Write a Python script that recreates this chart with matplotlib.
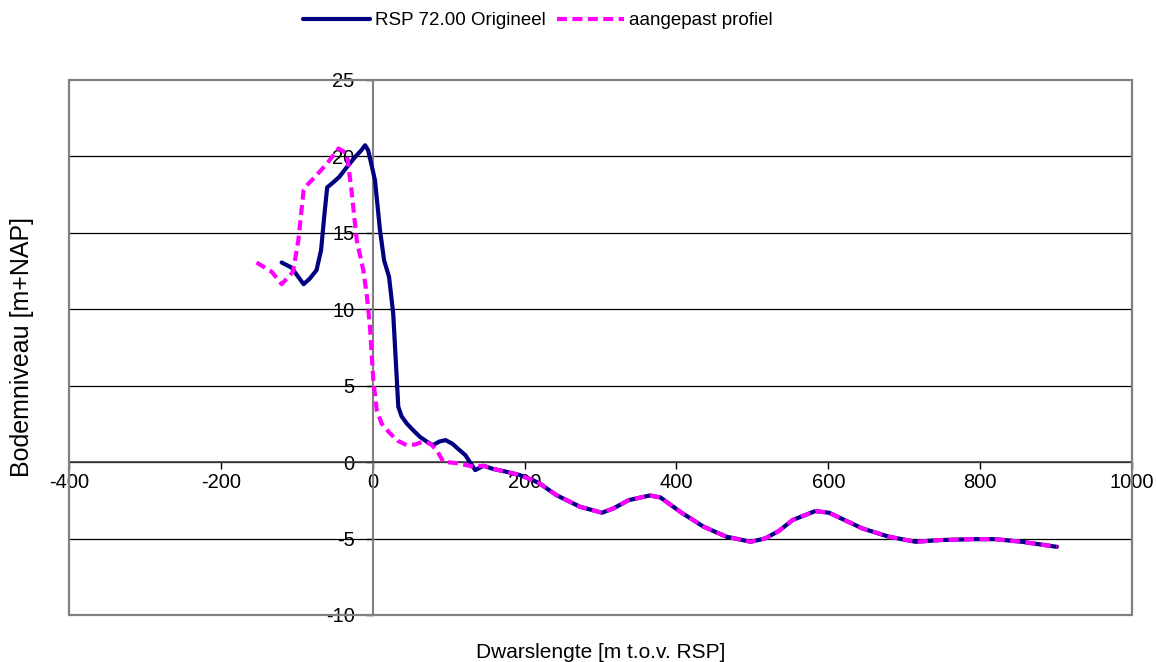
import matplotlib
matplotlib.use("Agg")
import matplotlib.pyplot as plt
from matplotlib.patches import Rectangle

plt.rcParams['font.family'] = ['Liberation Sans', 'DejaVu Sans']
plt.rcParams['axes.unicode_minus'] = False

# Original cross-section profile
orig_x = [-120, -107, -91, -83, -74, -68, -64, -60, -52, -44, -34, -23, -15, -10, -6,
          0, 3, 9.6, 15, 21.5, 27, 33.7, 38, 44.8, 53, 62, 71, 79, 88, 96, 105, 114,
          122, 128, 135, 146, 159, 176, 194, 211, 220, 242, 273, 302, 317, 337, 365,
          379, 405, 436, 466, 498, 517, 535, 553, 583, 601, 622, 645, 680, 715, 746,
          790, 820, 855, 901]
orig_y = [13.06, 12.73, 11.64, 12.0, 12.56, 13.87, 16.0, 17.97, 18.3, 18.66, 19.3, 19.97,
          20.4, 20.73, 20.4, 19.1, 18.44, 15.17, 13.2, 12.12, 9.72, 3.62, 3.0, 2.53, 2.1,
          1.66, 1.35, 1.11, 1.35, 1.44, 1.2, 0.8, 0.46, 0.0, -0.52, -0.24, -0.45, -0.63,
          -0.85, -1.18, -1.4, -2.16, -2.92, -3.31, -3.03, -2.49, -2.18, -2.31, -3.25,
          -4.23, -4.88, -5.21, -4.99, -4.5, -3.79, -3.2, -3.31, -3.8, -4.34, -4.88,
          -5.21, -5.1, -5.04, -5.04, -5.21, -5.54]

# Adjusted profile (front section; follows the original beyond x = 146)
adj_front_x = [-153, -133, -120, -105, -98, -91, -85, -76, -60, -45, -34, -28, -21, -12.4,
               -8, -3.6, 0.8, 5.3, 12, 22.8, 33, 44.8, 55, 66.6, 76, 84.3, 93, 108, 123.8,
               132.5]
adj_front_y = [13.06, 12.45, 11.64, 12.45, 14.5, 17.79, 18.2, 18.66, 19.54, 20.52, 20.19,
               17.79, 14.5, 12.56, 11.03, 8.85, 5.36, 3.4, 2.5, 1.88, 1.4, 1.11, 1.15, 1.33,
               1.2, 0.78, 0.02, -0.05, -0.2, -0.3]

adj_x = adj_front_x + [x for x in orig_x if x >= 146]
adj_y = adj_front_y + [y for x, y in zip(orig_x, orig_y) if x >= 146]

x_ticks = [-400, -200, 0, 200, 400, 600, 800, 1000]
y_ticks = [-10, -5, 0, 5, 10, 15, 20, 25]

fig = plt.figure(figsize=(11.56, 6.62), dpi=100)
ax = fig.add_axes([0.0597, 0.0710, 0.9195, 0.8082])

ax.set_xlim(-400, 1000)
ax.set_ylim(-10, 25)

# horizontal gridlines
for yv in y_ticks[1:-1]:
    ax.axhline(yv, color='black', lw=0.9, zorder=1)

l1, = ax.plot(orig_x, orig_y, color='#000080', lw=3.0, zorder=3,
              solid_joinstyle='round', solid_capstyle='round',
              label='RSP 72.00 Origineel')
l2, = ax.plot(adj_x, adj_y, color='#FF00FF', lw=3.0, zorder=4,
              dashes=(2.4, 1.3), label='aangepast profiel')

# axes through the origin
ax.spines['left'].set_position(('data', 0))
ax.spines['bottom'].set_position(('data', 0))
ax.spines['left'].set_color('#808080')
ax.spines['left'].set_linewidth(1.5)
ax.spines['bottom'].set_color('#404040')
ax.spines['bottom'].set_linewidth(1.2)
ax.spines['top'].set_visible(False)
ax.spines['right'].set_visible(False)

# plot-area frame
ax.add_patch(Rectangle((0, 0), 1, 1, transform=ax.transAxes, fill=False,
                       edgecolor='#808080', lw=1.6, zorder=5, clip_on=False))

ax.set_xticks(x_ticks)
ax.set_yticks(y_ticks)
ax.set_xticklabels([str(v) for v in x_ticks])
ax.set_yticklabels([str(v) for v in y_ticks])
ax.tick_params(axis='x', direction='out', length=5, width=1, color='black',
               labelsize=14.5, pad=3)
ax.tick_params(axis='y', direction='out', length=5, width=1, color='black',
               labelsize=14.5, pad=8)

ax.set_xlabel('Dwarslengte [m t.o.v. RSP]', fontsize=15)
ax.xaxis.set_label_coords(0.5, -0.053)
ax.set_ylabel('Bodemniveau [m+NAP]', fontsize=18)
ax.yaxis.set_label_coords(-0.033, 0.5)

fig.legend(handles=[l1, l2], loc='center', bbox_to_anchor=(0.465, 0.969), ncol=2,
           frameon=False, fontsize=13.5, handlelength=3.6, columnspacing=0.6,
           handletextpad=0.25)

fig.savefig('out.png', dpi=100)
